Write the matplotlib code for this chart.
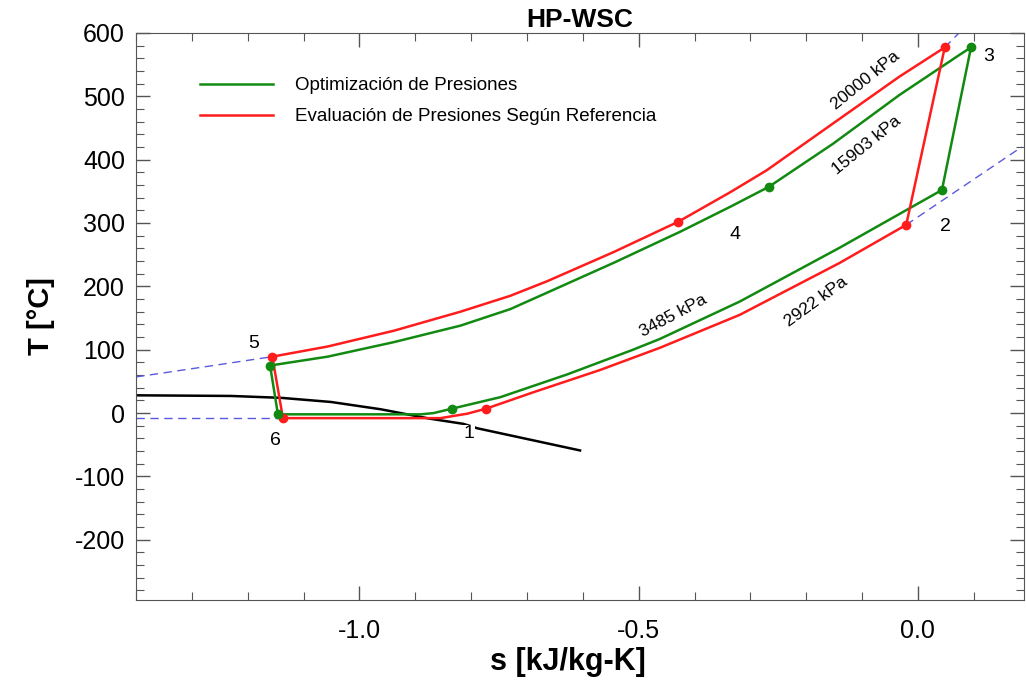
import matplotlib.pyplot as plt
from matplotlib.ticker import MultipleLocator

plt.rcParams['font.family'] = ['Liberation Sans', 'DejaVu Sans']
plt.rcParams['axes.unicode_minus'] = False

# Optimización de Presiones (verde)
s_alta_opt = [0.095, 0.074, -0.033, -0.152, -0.267, -0.335, -0.426,
              -0.545, -0.664, -0.730, -0.819, -0.938, -1.057, -1.160]
T_alta_opt = [577, 565, 502, 425, 357, 326, 286, 237, 190, 164, 138, 112, 89, 75]
s_exp_opt = [-1.160, -1.146, -0.890, -0.867, -0.834]
T_exp_opt = [75, -2, -2, 0, 7]
s_baja_opt = [-0.834, -0.748, -0.628, -0.510, -0.462, -0.319, -0.140, 0.043]
T_baja_opt = [7, 25, 61, 100, 117, 176, 261, 352]
s_comp_opt = [0.043, 0.095]
T_comp_opt = [352, 577]
s_pts_opt = [-0.834, 0.043, 0.095, -0.267, -1.160, -1.146]
T_pts_opt = [7, 352, 577, 357, 75, -2]

# Evaluación de Presiones Según Referencia (rojo)
s_alta_ref = [0.048, -0.033, -0.152, -0.271, -0.337, -0.429, -0.545, -0.664,
              -0.730, -0.819, -0.938, -1.057, -1.156]
T_alta_ref = [577, 531, 457, 383, 348, 302, 254, 208, 185, 160, 130, 105, 89]
s_exp_ref = [-1.156, -1.137, -0.855, -0.807, -0.773]
T_exp_ref = [89, -8, -8, -1, 7]
s_baja_ref = [-0.773, -0.688, -0.569, -0.462, -0.319, -0.140, -0.021]
T_baja_ref = [7, 33, 68, 103, 155, 237, 297]
s_comp_ref = [-0.021, 0.048]
T_comp_ref = [297, 577]
s_pts_ref = [-0.773, -0.021, 0.048, -0.429, -1.156, -1.137]
T_pts_ref = [7, 297, 577, 302, 89, -8]

# curva de saturación
s_sat = [-1.40, -1.230, -1.140, -1.051, -0.962, -0.873, -0.814, -0.789, -0.605]
T_sat = [28, 27, 24, 17.5, 6, -9, -17, -24, -59]

# isobaras prolongadas (azul, discontinuas)
s_iso_5 = [-1.40, -1.277, -1.156]
T_iso_5 = [57, 73, 89]
s_iso_6 = [-1.40, -1.137]
T_iso_6 = [-8, -8]
s_iso_3 = [0.048, 0.085]
T_iso_3 = [577, 610]
s_iso_2 = [-0.021, 0.186]
T_iso_2 = [297, 420]

estados = ['1', '2', '3', '4', '5', '6']
s_estados = [-0.804, 0.049, 0.126, -0.328, -1.189, -1.151]
T_estados = [-33, 295, 562, 282, 110, -43]

presiones = ['20000 kPa', '15903 kPa', '3485 kPa', '2922 kPa']
s_presiones = [-0.094, -0.092, -0.438, -0.183]
T_presiones = [525, 422, 154, 176]
rot_presiones = [39, 39, 28, 36]

verde = '#128a12'
rojo = '#ff1c1c'
azul = '#5a5ae0'

fig = plt.figure(figsize=(10.26, 6.84), dpi=100)
ax = fig.add_axes([0.1326, 0.1228, 0.8655, 0.8292])

for s, T in [(s_iso_5, T_iso_5), (s_iso_6, T_iso_6), (s_iso_3, T_iso_3), (s_iso_2, T_iso_2)]:
    ax.plot(s, T, '--', color=azul, lw=1.0, dashes=(6, 4))

ax.plot(s_sat, T_sat, color='black', lw=1.8)

ax.plot(s_alta_opt, T_alta_opt, color=verde, lw=1.8, label='Optimización de Presiones')
for s, T in [(s_exp_opt, T_exp_opt), (s_baja_opt, T_baja_opt), (s_comp_opt, T_comp_opt)]:
    ax.plot(s, T, color=verde, lw=1.8)
ax.plot(s_alta_ref, T_alta_ref, color=rojo, lw=1.8,
        label='Evaluación de Presiones Según Referencia')
for s, T in [(s_exp_ref, T_exp_ref), (s_baja_ref, T_baja_ref), (s_comp_ref, T_comp_ref)]:
    ax.plot(s, T, color=rojo, lw=1.8)

ax.plot(s_pts_ref, T_pts_ref, 'o', color=rojo, ms=6, zorder=5)
ax.plot(s_pts_opt, T_pts_opt, 'o', color=verde, ms=6, zorder=5)

for txt, s, T in zip(estados, s_estados, T_estados):
    ax.text(s, T, txt, ha='center', va='center', fontsize=14, zorder=6,
            bbox=dict(facecolor='white', edgecolor='none', pad=0.5))

for txt, s, T, r in zip(presiones, s_presiones, T_presiones, rot_presiones):
    ax.text(s, T, txt, ha='center', va='center', fontsize=12.5,
            rotation=r, rotation_mode='anchor')

ax.set_xlim(-1.4, 0.19)
ax.set_ylim(-295, 600)
ax.xaxis.set_major_locator(MultipleLocator(0.5))
ax.xaxis.set_minor_locator(MultipleLocator(0.1))
ax.yaxis.set_major_locator(MultipleLocator(100))
ax.yaxis.set_minor_locator(MultipleLocator(20))
ax.xaxis.set_major_formatter(plt.FormatStrFormatter('%.1f'))
ax.tick_params(which='both', direction='in', top=True, right=True, colors='#555555',
               labelcolor='black', labelsize=18)
ax.tick_params(which='major', length=10, width=1)
ax.tick_params(which='minor', length=6, width=0.8)
ax.tick_params(axis='x', pad=14)
ax.tick_params(axis='y', pad=8)
for sp in ax.spines.values():
    sp.set_color('#555555')

ax.set_xlabel('s [kJ/kg-K]', fontsize=22, fontweight='bold')
ax.xaxis.set_label_coords(0.486, -0.11, transform=ax.transAxes)
ax.xaxis.label.set_va('center')
ax.set_ylabel('T [°C]', fontsize=21, fontweight='bold', labelpad=14)
ax.set_title('HP-WSC', fontsize=19, fontweight='bold', pad=4)

ax.legend(loc='upper left', bbox_to_anchor=(0.072, 0.922), frameon=False,
          fontsize=13.5, handlelength=3.9, handletextpad=1.15, labelspacing=0.75,
          borderpad=0, borderaxespad=0)

fig.savefig('out.png', dpi=100)
